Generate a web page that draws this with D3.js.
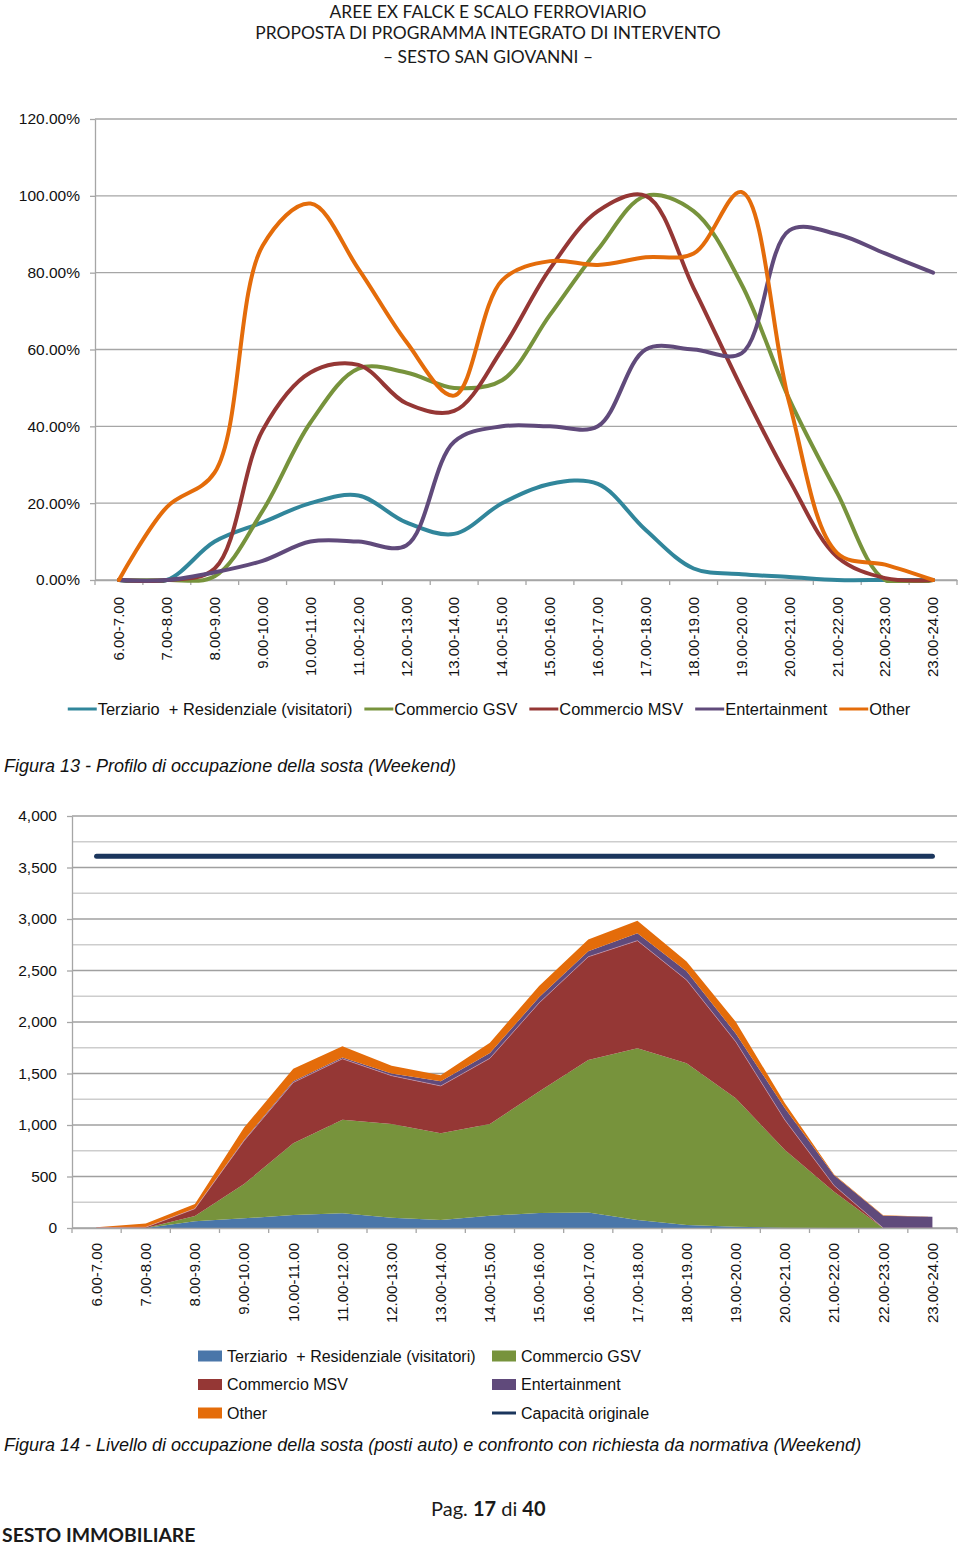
<!DOCTYPE html>
<html>
<head>
<meta charset="utf-8">
<script src="https://cdn.jsdelivr.net/npm/d3@7"></script>
<style>
  body { margin: 0; background: #fff; }
  svg text { font-family: "Liberation Sans", Arial, sans-serif; fill: #111; }
  .doc { font-family: Lato, "Open Sans", sans-serif !important; fill: #1a1a1a; }
</style>
</head>
<body>
<div id="page"></div>
<script>
'use strict';

const hours = ['6.00-7.00', '7.00-8.00', '8.00-9.00', '9.00-10.00', '10.00-11.00', '11.00-12.00',
  '12.00-13.00', '13.00-14.00', '14.00-15.00', '15.00-16.00', '16.00-17.00', '17.00-18.00',
  '18.00-19.00', '19.00-20.00', '20.00-21.00', '21.00-22.00', '22.00-23.00', '23.00-24.00'];

const seriesNames = ['Terziario  + Residenziale (visitatori)', 'Commercio GSV', 'Commercio MSV', 'Entertainment', 'Other'];

// Figura 13 - profilo di occupazione (%)
const pctTerziario = [0, 0, 10, 15, 20, 22, 15, 12, 20, 25, 25, 13, 3, 1.5, 0.8, 0, 0, 0];
const pctGSV = [0, 0, 1, 18, 41, 55, 54, 50, 52, 69, 86, 100, 96, 77, 47, 22.6, 0, 0];
const pctMSV = [0, 0, 3, 39, 54, 56, 46, 44, 60, 81, 96, 100, 76, 50, 26, 6, 0.5, 0];
const pctEntertainment = [0, 0, 2, 5, 10, 10, 9, 36, 40, 40, 40, 60, 60, 59, 91, 90, 85, 80];
const pctOther = [0, 19, 28, 87, 98, 81, 62, 48, 78, 83, 82, 84, 85, 101, 46, 7, 4, 0];
const pctTicks = [0, 0.2, 0.4, 0.6, 0.8, 1.0, 1.2];

// Figura 14 - posti auto occupati
const postiTerziario = [0, 0, 65, 94, 126, 142, 100, 78, 120, 145, 150, 78, 30, 13, 3, 0, 0, 0];
const postiGSV = [0, 0, 52, 333, 696, 910, 910, 841, 890, 1180, 1480, 1666, 1570, 1246, 754, 352, 0, 0];
const postiMSV = [4, 8, 70, 420, 590, 590, 469, 460, 637, 860, 1003, 1046, 808, 550, 291, 60, 0, 0];
const postiEntertainment = [0, 0, 3, 8, 13, 13, 20, 45, 52, 55, 54, 71, 85, 80, 115, 100, 118, 110];
const postiOther = [4, 35, 42, 120, 121, 110, 77, 60, 100, 110, 115, 123, 95, 113, 47, 8, 5, 0];
const capacita = [3610, 3610, 3610, 3610, 3610, 3610, 3610, 3610, 3610, 3610, 3610, 3610, 3610, 3610, 3610, 3610, 3610, 3610];
const postiTicks = [0, 500, 1000, 1500, 2000, 2500, 3000, 3500, 4000];

const lineColors = ['#31869b', '#77933c', '#953735', '#604a7b', '#e46c0a'];
const areaColors = ['#4a76a9', '#77933c', '#953735', '#604a7b', '#e46c0a'];
const gridColor = '#a6a6a6';

const svg = d3.select('#page')
  .append('svg')
  .attr('width', 960)
  .attr('height', 1545);

// intestazione documento
const header = ['AREE EX FALCK E SCALO FERROVIARIO', 'PROPOSTA DI PROGRAMMA INTEGRATO DI INTERVENTO', '\u2013 SESTO SAN GIOVANNI \u2013'];
svg.selectAll('.hdr')
  .data(header)
  .enter()
  .append('text')
  .attr('class', 'doc')
  .attr('x', 488)
  .attr('y', (d, i) => [18, 39, 63][i])
  .attr('text-anchor', 'middle')
  .style('font-size', '17.4px')
  .text(d => d);

// ---------- Figura 13 ----------
const x1 = d3.scaleBand().domain(hours).range([95, 957]);
const y1 = d3.scaleLinear().domain([0, 1.2]).range([580, 119]);
const cx1 = d => x1(d) + x1.bandwidth() / 2;

svg.append('g')
  .selectAll('line')
  .data(pctTicks)
  .enter()
  .append('line')
  .attr('x1', 95).attr('x2', 957)
  .attr('y1', d => y1(d)).attr('y2', d => y1(d))
  .attr('stroke', gridColor)
  .attr('stroke-width', 1.3);

const yAxis1 = svg.append('g')
  .attr('transform', 'translate(95,0)')
  .call(d3.axisLeft(y1).tickValues(pctTicks).tickFormat(d3.format('.2%')).tickSize(5).tickSizeOuter(0).tickPadding(10));
yAxis1.selectAll('path, line').attr('stroke', gridColor).attr('stroke-width', 1.3);
yAxis1.selectAll('text').style('font-size', '15.5px').attr('fill', '#111');

function bandAxis(x, yPos, labelOffset) {
  const g = svg.append('g').attr('transform', `translate(0,${yPos})`);
  g.call(d3.axisBottom(x).tickSize(0).tickSizeOuter(0));
  g.select('.domain').attr('stroke', gridColor).attr('stroke-width', 1.3);
  g.selectAll('.tick text')
    .attr('transform', 'rotate(-90)')
    .attr('x', -labelOffset)
    .attr('y', 0)
    .attr('dy', '0.35em')
    .attr('text-anchor', 'end')
    .attr('fill', '#111')
    .style('font-size', '15px');
  const bounds = x.domain().map(d => x(d)).concat([x.range()[1]]);
  g.selectAll('.bound')
    .data(bounds)
    .enter()
    .append('line')
    .attr('x1', d => d).attr('x2', d => d)
    .attr('y1', 0).attr('y2', 5)
    .attr('stroke', gridColor)
    .attr('stroke-width', 1.3);
}
bandAxis(x1, 580, 17);

const pctSeries = [pctTerziario, pctGSV, pctMSV, pctEntertainment, pctOther];
const line1 = d3.line()
  .x((d, i) => cx1(hours[i]))
  .y(d => y1(d / 100))
  .curve(d3.curveCatmullRom.alpha(0.5));

svg.append('defs').append('clipPath').attr('id', 'clip1')
  .append('rect').attr('x', 95).attr('y', 100).attr('width', 870).attr('height', 483);

svg.append('g')
  .attr('clip-path', 'url(#clip1)')
  .selectAll('path')
  .data(pctSeries)
  .enter()
  .append('path')
  .attr('d', d => line1(d))
  .attr('fill', 'none')
  .attr('stroke', (d, i) => lineColors[i])
  .attr('stroke-width', 4)
  .attr('stroke-linecap', 'round')
  .attr('stroke-linejoin', 'round');

// legenda 1
const leg1 = svg.append('g');
let lx = 0;
seriesNames.forEach((name, i) => {
  const item = leg1.append('g').attr('transform', `translate(${lx},0)`);
  item.append('line').attr('x1', 0).attr('x2', 29).attr('y1', 0).attr('y2', 0)
    .attr('stroke', lineColors[i]).attr('stroke-width', 3);
  const t = item.append('text').attr('x', 30).attr('y', 0).attr('dy', '0.35em')
    .style('font-size', '16.4px').style('white-space', 'pre').text(name);
  lx += 30 + t.node().getComputedTextLength() + 12;
});
lx -= 12;
leg1.attr('transform', `translate(${489 - lx / 2},709)`);

svg.append('text')
  .attr('x', 4).attr('y', 772)
  .style('font-size', '18px').style('font-style', 'italic')
  .text('Figura 13 - Profilo di occupazione della sosta (Weekend)');

// ---------- Figura 14 ----------
const x2 = d3.scaleBand().domain(hours).range([72, 957]);
const y2 = d3.scaleLinear().domain([0, 4000]).range([1228, 816]);
const cx2 = d => x2(d) + x2.bandwidth() / 2;

svg.append('g')
  .selectAll('line')
  .data(d3.range(0, 4001, 250))
  .enter()
  .append('line')
  .attr('x1', 72).attr('x2', 957)
  .attr('y1', d => y2(d)).attr('y2', d => y2(d))
  .attr('stroke', d => d % 500 === 0 ? '#a0a0a0' : '#cdcdcd')
  .attr('stroke-width', 1.3);

const yAxis2 = svg.append('g')
  .attr('transform', 'translate(72,0)')
  .call(d3.axisLeft(y2).tickValues(postiTicks).tickFormat(d3.format(',')).tickSize(5).tickSizeOuter(0).tickPadding(10));
yAxis2.selectAll('path, line').attr('stroke', gridColor).attr('stroke-width', 1.3);
yAxis2.selectAll('text').style('font-size', '15.5px').attr('fill', '#111');

const keys = ['terziario', 'gsv', 'msv', 'ent', 'other'];
const rows = hours.map((h, i) => ({
  hour: h,
  terziario: postiTerziario[i],
  gsv: postiGSV[i],
  msv: postiMSV[i],
  ent: postiEntertainment[i],
  other: postiOther[i]
}));
const stacked = d3.stack().keys(keys)(rows);

const area2 = d3.area()
  .x(d => cx2(d.data.hour))
  .y0(d => y2(d[0]))
  .y1(d => y2(d[1]));

svg.append('g')
  .selectAll('path')
  .data(stacked)
  .enter()
  .append('path')
  .attr('d', area2)
  .attr('fill', (d, i) => areaColors[i]);

// sottile filo chiaro sul bordo MSV
svg.append('path')
  .attr('d', d3.line().x(d => cx2(d.data.hour)).y(d => y2(d[1]))(stacked[2]))
  .attr('fill', 'none')
  .attr('stroke', '#d9a3b3')
  .attr('stroke-width', 0.8)
  .attr('opacity', 0.7);

bandAxis(x2, 1228, 15);

svg.append('path')
  .attr('d', d3.line().x((d, i) => cx2(hours[i])).y(d => y2(d))(capacita))
  .attr('fill', 'none')
  .attr('stroke', '#1b365d')
  .attr('stroke-width', 5)
  .attr('stroke-linecap', 'round');

// legenda 2
const leg2Items = seriesNames.map((n, i) => ({ name: n, color: areaColors[i], kind: 'rect' }))
  .concat([{ name: 'Capacit\u00e0 originale', color: '#1b365d', kind: 'line' }]);
const leg2 = svg.append('g')
  .selectAll('g')
  .data(leg2Items)
  .enter()
  .append('g')
  .attr('transform', (d, i) => `translate(${i % 2 === 0 ? 198 : 492},${1356 + Math.floor(i / 2) * 28.5})`);
leg2.filter(d => d.kind === 'rect').append('rect')
  .attr('x', 0).attr('y', -5.5).attr('width', 24).attr('height', 11)
  .attr('fill', d => d.color);
leg2.filter(d => d.kind === 'line').append('line')
  .attr('x1', 0).attr('x2', 24).attr('y1', 0).attr('y2', 0)
  .attr('stroke', d => d.color).attr('stroke-width', 3);
leg2.append('text')
  .attr('x', 29).attr('y', 0).attr('dy', '0.35em')
  .style('font-size', '16px').style('white-space', 'pre')
  .text(d => d.name);

svg.append('text')
  .attr('x', 4).attr('y', 1451)
  .style('font-size', '18px').style('font-style', 'italic')
  .text('Figura 14 - Livello di occupazione della sosta (posti auto) e confronto con richiesta da normativa (Weekend)');

// pie di pagina
const pag = svg.append('text').attr('class', 'doc').attr('x', 431).attr('y', 1516).style('font-size', '20px');
pag.append('tspan').text('Pag. ');
pag.append('tspan').style('font-weight', 'bold').text('17');
pag.append('tspan').text(' di ');
pag.append('tspan').style('font-weight', 'bold').text('40');

svg.append('text')
  .attr('class', 'doc')
  .attr('x', 2).attr('y', 1542)
  .style('font-size', '19.4px').style('font-weight', 'bold')
  .text('SESTO IMMOBILIARE');
</script>
</body>
</html>
